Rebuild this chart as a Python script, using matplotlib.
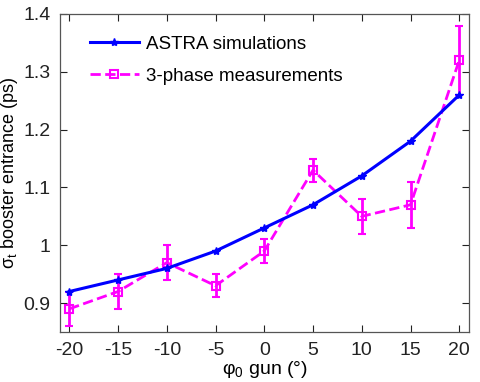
import matplotlib
matplotlib.use("Agg")
import matplotlib.pyplot as plt
from matplotlib.lines import Line2D

phase = [-20, -15, -10, -5, 0, 5, 10, 15, 20]
astra = [0.92, 0.94, 0.96, 0.99, 1.03, 1.07, 1.12, 1.18, 1.26]
meas = [0.89, 0.92, 0.97, 0.93, 0.99, 1.13, 1.05, 1.07, 1.32]
meas_err = [0.03, 0.03, 0.03, 0.02, 0.02, 0.02, 0.03, 0.04, 0.06]
xticks = [-20, -15, -10, -5, 0, 5, 10, 15, 20]
yticks = [0.9, 1.0, 1.1, 1.2, 1.3, 1.4]
yticklabels = ["0.9", "1", "1.1", "1.2", "1.3", "1.4"]

plt.rcParams['font.family'] = ['Liberation Sans', 'DejaVu Sans']
plt.rcParams['mathtext.fontset'] = 'custom'
plt.rcParams['mathtext.rm'] = 'Liberation Sans'
plt.rcParams['mathtext.it'] = 'Liberation Sans'
plt.rcParams['mathtext.default'] = 'regular'
plt.rcParams['axes.unicode_minus'] = False

fig = plt.figure(figsize=(4.81, 3.82), dpi=100)
ax = fig.add_axes([60/481, 1 - 332/382, (469-60)/481, (332-14)/382])

blue = '#0000ff'
mag = '#ff00ff'
ax.plot(phase, astra, color=blue, lw=2.2, marker='*', ms=6, zorder=3)
ax.errorbar(phase, meas, yerr=meas_err, color=mag, lw=2.0, ls='--',
            marker='s', ms=6, mfc='none', mec=mag, mew=1.5,
            elinewidth=2.0, capsize=3, capthick=1.5, zorder=2)

ax.set_xlim(-20.95, 21.0)
ax.set_ylim(0.85, 1.4)
ax.set_xticks(xticks)
ax.set_yticks(yticks)
ax.set_yticklabels(yticklabels)
ax.tick_params(direction='in', top=True, right=True, length=5, width=0.8,
               labelsize=14, colors='#222222', pad=7)
for s in ax.spines.values():
    s.set_color('#555555')
    s.set_linewidth(0.9)

ax.set_xlabel(r'$φ_0$ gun (°)', fontsize=14, labelpad=0)
ax.set_ylabel(r'$σ_t$ booster entrance (ps)', fontsize=13)
ax.yaxis.set_label_coords(-40/409, 0.5)

handles = [Line2D([], [], color=blue, lw=2.2, marker='*', ms=6),
           Line2D([], [], color=mag, lw=2.0, ls='--', marker='s', ms=6,
                  mfc='none', mec=mag, mew=1.5)]
labels = ['ASTRA simulations', '3-phase measurements']
ax.legend(handles, labels, loc='upper left', frameon=False, fontsize=13.5,
          bbox_to_anchor=(0.055, 0.955), handlelength=2.6, handletextpad=0.4,
          labelspacing=0.8, borderaxespad=0)

fig.savefig('out.png', dpi=100)
